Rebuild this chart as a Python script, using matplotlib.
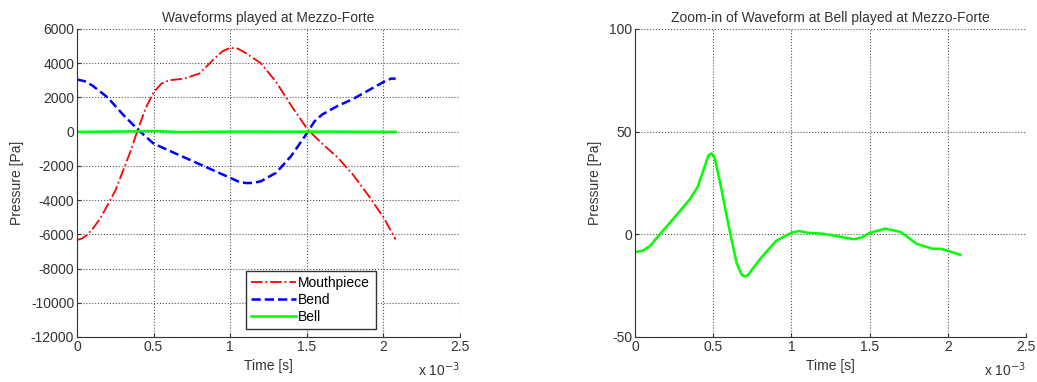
import numpy as np
import matplotlib
matplotlib.use("Agg")
import matplotlib.pyplot as plt

plt.rcParams['font.family'] = ['Liberation Sans', 'DejaVu Sans']
plt.rcParams['axes.unicode_minus'] = False

# Time axis in units of 1e-3 s
t_mouth = [0, 0.03, 0.06, 0.1, 0.15, 0.2, 0.25, 0.3, 0.35, 0.4, 0.45, 0.5, 0.55,
           0.6, 0.7, 0.8, 0.9, 0.95, 1.0, 1.05, 1.1, 1.2, 1.3, 1.4, 1.5, 1.52,
           1.6, 1.7, 1.8, 1.9, 2.0, 2.08]
p_mouth = [-6330, -6250, -6080, -5700, -5100, -4280, -3450, -2290, -1130, 200, 1400,
           2300, 2800, 3000, 3100, 3400, 4300, 4700, 4900, 4850, 4600, 4000, 2900,
           1500, 200, 0, -700, -1500, -2500, -3700, -5000, -6300]

t_bend = [0, 0.05, 0.1, 0.2, 0.3, 0.4, 0.45, 0.5, 0.6, 0.7, 0.8, 0.9, 1.0, 1.05,
          1.1, 1.15, 1.2, 1.3, 1.4, 1.5, 1.55, 1.6, 1.7, 1.8, 1.9, 2.0, 2.05, 2.08]
p_bend = [3050, 2950, 2700, 2000, 1000, 100, -300, -700, -1100, -1500, -1900,
          -2300, -2700, -2900, -3000, -3000, -2900, -2400, -1400, -100, 600,
          1000, 1500, 1900, 2400, 2900, 3100, 3100]

t_bell = [0, 0.05, 0.1, 0.15, 0.2, 0.3, 0.35, 0.4, 0.45, 0.47, 0.49, 0.51, 0.55,
          0.6, 0.65, 0.68, 0.7, 0.72, 0.75, 0.8, 0.9, 1.0, 1.05, 1.1, 1.2, 1.3,
          1.4, 1.45, 1.5, 1.6, 1.7, 1.8, 1.9, 1.95, 2.0, 2.08]
p_bell = [-8.6, -8, -5.4, -0.7, 3.6, 12.5, 17, 23, 34, 38.5, 39.4, 37, 23, 3.6,
          -14, -19.5, -20.5, -20, -17, -12, -3.3, 0.8, 1.6, 0.8, 0.3, -1, -2.4,
          -1.5, 0.7, 2.8, 1.1, -4.6, -7, -7, -8, -10]

fig = plt.figure(figsize=(10.37, 3.82), dpi=100)
H = 382.0
W = 1037.0
ax1 = fig.add_axes([77 / W, (H - 337) / H, (460 - 77) / W, (337 - 29) / H])
ax2 = fig.add_axes([635 / W, (H - 337) / H, (1026 - 635) / W, (337 - 29) / H])

fs = 10
txt = '#333333'

ax1.plot(t_mouth, p_mouth, color='red', ls='-.', lw=1.3, label='Mouthpiece')
ax1.plot(t_bend, p_bend, color='blue', ls='--', lw=1.8, label='Bend')
ax1.plot(t_bell, p_bell, color='#00ff00', ls='-', lw=1.8, label='Bell')
ax1.set_ylim(-12000, 6000)
ax1.set_yticks(np.arange(-12000, 6001, 2000))
ax1.set_title('Waveforms played at Mezzo-Forte', fontsize=fs, color=txt, pad=5)
ax1.legend(loc='lower left', bbox_to_anchor=(0.44, 0.025), fontsize=fs,
           fancybox=False, edgecolor='#333333', framealpha=1, handlelength=3.2,
           borderpad=0.4, labelspacing=0.2, handletextpad=0.2, borderaxespad=0)

ax2.plot(t_bell, p_bell, color='#00ff00', ls='-', lw=1.8)
ax2.set_ylim(-50, 100)
ax2.set_yticks([-50, 0, 50, 100])
ax2.set_title('Zoom-in of Waveform at Bell played at Mezzo-Forte', fontsize=fs,
              color=txt, pad=5)

for ax in (ax1, ax2):
    ax.set_xlim(0, 2.5)
    ax.set_xticks([0, 0.5, 1, 1.5, 2, 2.5])
    ax.set_xticklabels(['0', '0.5', '1', '1.5', '2', '2.5'])
    ax.set_xlabel('Time [s]', fontsize=fs, color=txt, labelpad=4)
    ax.set_ylabel('Pressure [Pa]', fontsize=fs, color=txt, labelpad=5)
    ax.grid(True, ls=':', color='#555555', lw=0.8)
    ax.spines['top'].set_visible(False)
    ax.spines['right'].set_visible(False)
    ax.spines['left'].set_color('#333333')
    ax.spines['bottom'].set_color('#333333')
    ax.tick_params(direction='in', labelsize=fs, colors=txt, length=3, pad=2)
    ax.text(1.0, -0.075, r'x 10$^{-3}$', transform=ax.transAxes, ha='right',
            va='top', fontsize=fs, color=txt)

fig.savefig('out.png', dpi=100)
